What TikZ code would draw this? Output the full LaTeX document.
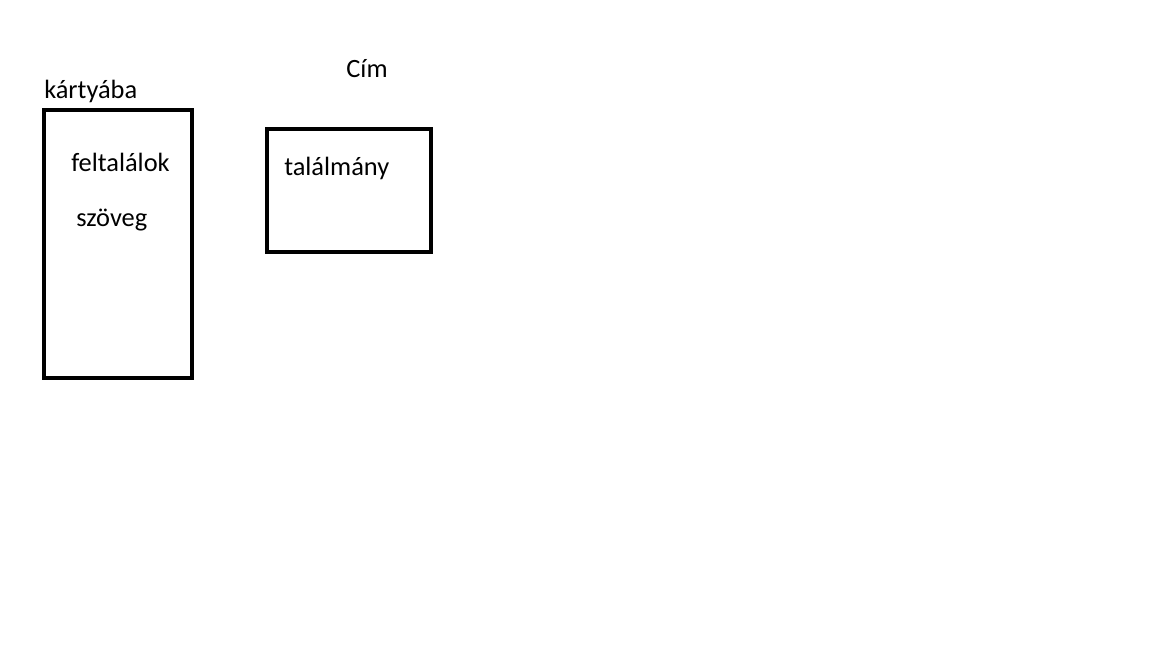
\documentclass[tikz,border=0pt]{standalone}
\usepackage{fontspec}
\setmainfont{Carlito}
\begin{document}
\begin{tikzpicture}[x=0.75pt,y=-0.75pt,
  box/.style={draw=black,line width=3pt},
  lbl/.style={anchor=west,inner sep=0pt,font=\fontsize{19.8pt}{23pt}\selectfont}]
\useasboundingbox[fill=white] (0,0) rectangle (1152,648);
\draw[box] (44,110) rectangle (192,378);
\draw[box] (267,129) rectangle (431,252);
\node[lbl] (kartya) at (44,91) {kártyába};
\node[lbl,anchor=center] (cim) at (367,69) {Cím};
\node[lbl] (felt) at (71,162) {feltalálok};
\node[lbl] (szov) at (76,220) {szöveg};
\node[lbl] (tal) at (284,168) {találmány};
\end{tikzpicture}
\end{document}
